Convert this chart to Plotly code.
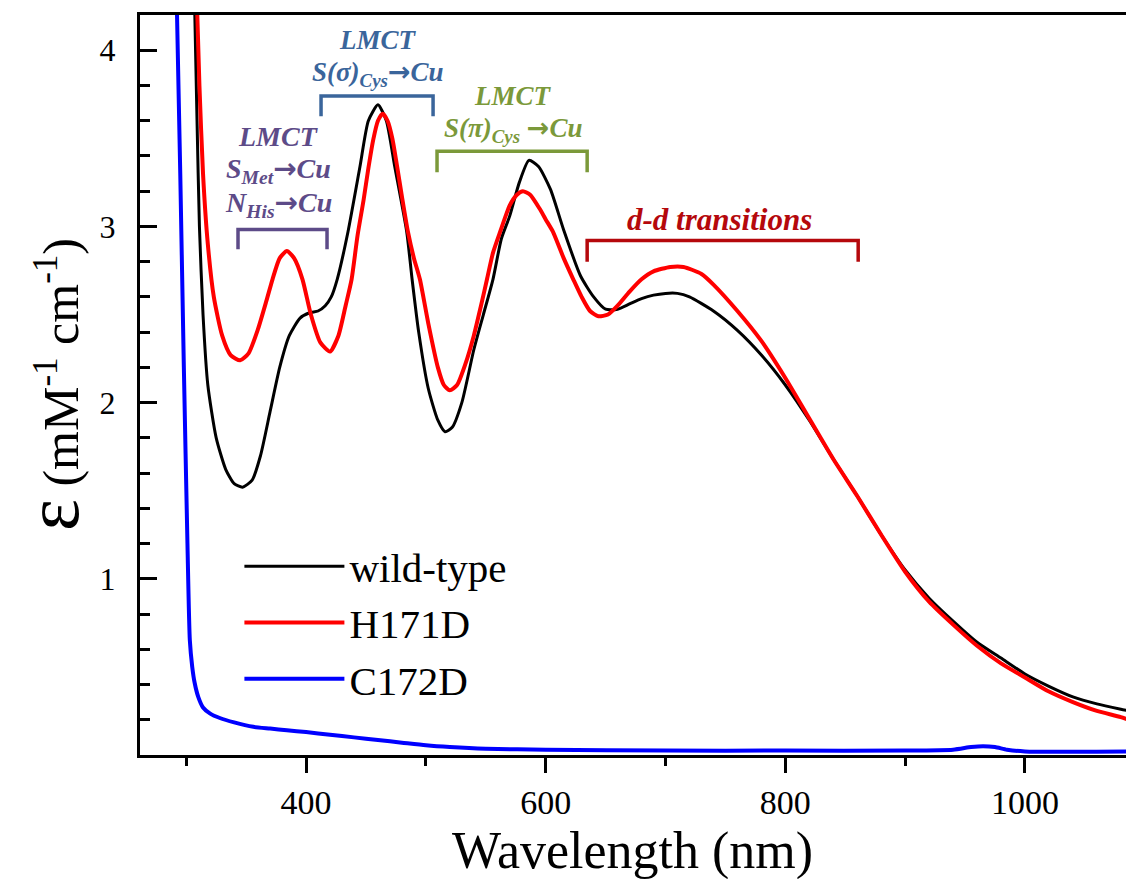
import plotly.graph_objects as go

# ---------------- data ----------------
wt_nm = [307, 309, 311, 314, 318, 325, 333, 340, 347, 355, 362, 370, 378, 386, 395, 403, 410, 416,
         421, 426, 435, 445, 452, 460, 467, 474, 484, 488.5, 494, 502, 510, 516, 522, 530, 540, 548,
         556, 563, 570, 578, 586, 594, 604, 615, 629, 640, 650, 660, 670, 680, 690, 700, 710, 720,
         740, 760, 780, 800, 820, 840, 860, 880, 900, 920, 940, 960, 980, 1000, 1020, 1040, 1060,
         1080, 1091]
wt_eps = [4.25, 3.6, 3.0, 2.5, 2.1, 1.8, 1.62, 1.54, 1.52, 1.56, 1.7, 1.95, 2.2, 2.38, 2.48, 2.51, 2.52, 2.55,
          2.6, 2.7, 2.97, 3.34, 3.6, 3.69, 3.6, 3.34, 2.97, 2.7, 2.4, 2.08, 1.9, 1.835, 1.86, 2.0, 2.3, 2.5,
          2.7, 2.93, 3.06, 3.25, 3.375, 3.34, 3.21, 2.98, 2.72, 2.6, 2.53, 2.53, 2.56, 2.59, 2.61, 2.62, 2.62, 2.6,
          2.52, 2.41, 2.27, 2.1, 1.9, 1.68, 1.47, 1.25, 1.05, 0.89, 0.76, 0.64, 0.55, 0.46, 0.39, 0.33, 0.29,
          0.26, 0.245]

h171d_nm = [309, 311, 314, 318, 323, 330, 337, 345, 352, 360, 367, 372, 378, 384, 390, 397, 404, 412,
            420, 427, 433, 438, 443, 448, 452, 456, 460, 464, 468, 472, 476, 480, 485, 490, 495, 502,
            510, 515, 520, 526, 533, 540, 546, 551, 556, 562, 570, 576, 581, 587, 595, 600, 606, 615,
            623, 630, 637, 644, 652, 660, 670, 680, 690, 704, 715, 730, 740, 760, 780, 800, 820, 840,
            860, 880, 900, 920, 940, 960, 980, 1000, 1020, 1040, 1060, 1080, 1091]
h171d_eps = [4.25, 3.8, 3.3, 2.9, 2.6, 2.38, 2.27, 2.24, 2.28, 2.42, 2.58, 2.70, 2.82, 2.86, 2.82, 2.70, 2.5, 2.34,
             2.29, 2.38, 2.55, 2.70, 2.95, 3.15, 3.33, 3.49, 3.6, 3.64, 3.6, 3.5, 3.34, 3.17, 2.97, 2.82, 2.70, 2.45,
             2.2, 2.1, 2.07, 2.1, 2.22, 2.38, 2.55, 2.70, 2.85, 2.97, 3.12, 3.18, 3.20, 3.18, 3.1, 3.04, 2.97, 2.82,
             2.70, 2.6, 2.52, 2.49, 2.5, 2.55, 2.63, 2.70, 2.745, 2.77, 2.77, 2.73, 2.67, 2.52, 2.35, 2.14, 1.91, 1.68,
             1.47, 1.25, 1.04, 0.87, 0.74, 0.62, 0.52, 0.44, 0.36, 0.3, 0.25, 0.215, 0.19]

c172d_nm = [292, 295, 298, 301, 303, 305, 307, 310, 314, 320, 328, 340, 356, 370, 384, 400, 420, 440,
            460, 480, 500, 520, 550, 600, 700, 800, 900, 940, 955, 965, 975, 985, 1000, 1091]
c172d_eps = [4.3, 3.3, 2.2, 1.2, 0.65, 0.5, 0.41, 0.33, 0.27, 0.235, 0.21, 0.185, 0.16, 0.15, 0.14, 0.13, 0.115, 0.1,
             0.085, 0.07, 0.055, 0.045, 0.035, 0.03, 0.025, 0.025, 0.025, 0.03, 0.045, 0.05, 0.045, 0.03, 0.02, 0.02]

series_names = ["wild-type", "H171D", "C172D"]

# annotation groups: bracket start/end (nm), bracket top/bottom (eps), text lines
bracket_start = [343.2, 412.5, 509.3, 634.6]
bracket_end = [417.5, 506.0, 634.6, 860.8]
bracket_top = [2.983, 3.74, 3.426, 2.92]
bracket_bottom = [2.87, 3.625, 3.307, 2.80]
label_x = [377, 460, 573, 745]
ARROW = "<span style='font-family:DejaVu Sans'>→</span>"
label_lines = [
    ["LMCT", f"S<sub>Met</sub>{ARROW}Cu", f"N<sub>His</sub>{ARROW}Cu"],
    ["LMCT", f"S(σ)<sub>Cys</sub>{ARROW}Cu"],
    ["LMCT", f"S(π)<sub>Cys</sub> {ARROW}Cu"],
    ["d-d transitions"],
]
label_sizes = [28, 27, 27, 31]
label_y = [[3.51, 3.32, 3.13], [4.06, 3.87], [3.74, 3.55], [3.04]]
group_colors = ["#5d4b88", "#3a659b", "#7b993a", "#b5080c"]

x_ticks = [400, 600, 800, 1000]
y_ticks = [1, 2, 3, 4]

# ---------------- figure ----------------
SERIF = "Liberation Serif"
fig = go.Figure()
fig.add_trace(go.Scatter(x=wt_nm, y=wt_eps, mode="lines", name=series_names[0],
                         line=dict(color="black", width=3, shape="spline", smoothing=0.6),
                         legendgroup="a"))
fig.add_trace(go.Scatter(x=h171d_nm, y=h171d_eps, mode="lines", name=series_names[1],
                         line=dict(color="#ff0000", width=4, shape="spline", smoothing=0.6),
                         legendgroup="b"))
fig.add_trace(go.Scatter(x=c172d_nm, y=c172d_eps, mode="lines", name=series_names[2],
                         line=dict(color="#0000ff", width=4, shape="spline", smoothing=0.6),
                         legendgroup="c"))

for i in range(len(bracket_start)):
    c = group_colors[i]
    x0, x1, yt, yb = bracket_start[i], bracket_end[i], bracket_top[i], bracket_bottom[i]
    fig.add_shape(type="path", xref="x", yref="y",
                  path=f"M {x0},{yb} L {x0},{yt} L {x1},{yt} L {x1},{yb}",
                  line=dict(color=c, width=3.5))
    for txt, yy in zip(label_lines[i], label_y[i]):
        fig.add_annotation(x=label_x[i], y=yy, xref="x", yref="y", text=f"<b><i>{txt}</i></b>",
                           showarrow=False, font=dict(family=SERIF, size=label_sizes[i], color=c),
                           xanchor="center", yanchor="middle")

# axis titles
fig.add_annotation(x=0.495, y=0, xref="paper", yref="paper", yshift=-96,
                   text="Wavelength (nm)", showarrow=False,
                   font=dict(family=SERIF, size=52, color="black"), yanchor="middle")
fig.add_annotation(x=0, y=0.5, xref="paper", yref="paper", xshift=-88,
                   text="<span style='font-size:76px'>ε</span> (mM<sup>-1</sup> cm<sup>-1</sup>)",
                   textangle=-90, showarrow=False,
                   font=dict(family=SERIF, size=50, color="black"), xanchor="center", yanchor="middle")

fig.update_layout(
    width=1126, height=871,
    margin=dict(l=132, r=0, t=7, b=124),
    paper_bgcolor="white", plot_bgcolor="white",
    showlegend=True,
    legend=dict(x=0.1, y=0.3, xanchor="left", yanchor="top", bgcolor="rgba(0,0,0,0)",
                font=dict(family=SERIF, size=41, color="black"), itemwidth=100,
                tracegroupgap=0),
    font=dict(family=SERIF, color="black"),
)
fig.update_xaxes(range=[261.4, 1091], showgrid=False, zeroline=False,
                 showline=True, linecolor="black", linewidth=3, mirror=True,
                 tickvals=x_ticks, ticks="outside", ticklen=15, tickwidth=3, tickcolor="black",
                 tickfont=dict(family=SERIF, size=34, color="black"),
                 minor=dict(dtick=100, tick0=0, ticks="outside", ticklen=8, tickwidth=2.5, tickcolor="black"))
fig.update_yaxes(range=[0, 4.2], showgrid=False, zeroline=False,
                 showline=True, linecolor="black", linewidth=3, mirror=False,
                 tickvals=y_ticks, ticks="inside", ticklen=17, tickwidth=3, tickcolor="black",
                 tickfont=dict(family=SERIF, size=32, color="black"), ticklabelstandoff=15,
                 minor=dict(dtick=0.2, tick0=0, ticks="inside", ticklen=10, tickwidth=2.5, tickcolor="black"))

fig.write_html("out.html")
